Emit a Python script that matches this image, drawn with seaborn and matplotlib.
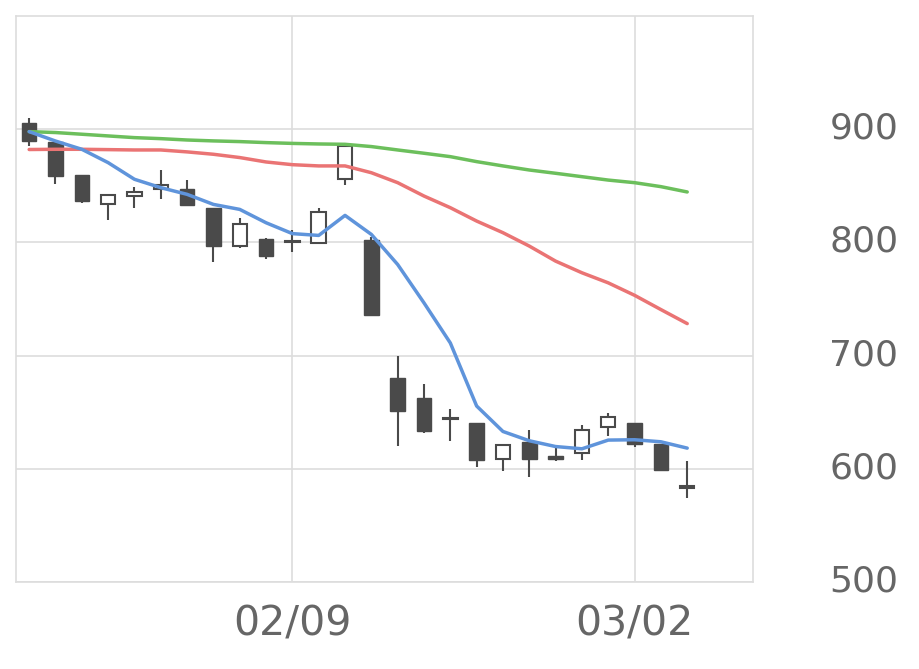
import pandas as pd
import numpy as np
import matplotlib
matplotlib.use("Agg")
import matplotlib.pyplot as plt
import matplotlib.transforms as mtransforms
import seaborn as sns

# daily prices
dates = ["01/26", "01/27", "01/28", "01/29", "02/01", "02/02", "02/03", "02/04", "02/05",
         "02/08", "02/09", "02/10", "02/12", "02/15", "02/16", "02/17", "02/18", "02/19",
         "02/22", "02/24", "02/25", "02/26", "03/01", "03/02", "03/03", "03/04"]
open_ = [905.3, 889.1, 859.6, 833.6, 841.0, 846.9, 847.5, 830.1, 796.7, 803.3, 800.3, 799.7, 855.8,
         801.8, 680.5, 662.8, 644.0, 640.4, 608.6, 623.9, 610.9, 614.4, 636.6, 640.4, 621.5, 583.2]
high = [909.7, 889.5, 859.8, 841.6, 849.3, 864.0, 855.1, 830.4, 821.2, 803.5, 810.6, 830.1, 886.0,
        804.7, 699.7, 674.6, 652.8, 640.6, 621.2, 634.5, 619.7, 639.0, 649.3, 640.6, 621.7, 606.5]
low = [885.0, 851.3, 835.0, 819.7, 830.4, 838.0, 833.2, 782.9, 795.0, 785.8, 791.8, 799.5, 851.0,
       735.5, 620.4, 631.6, 624.8, 602.0, 598.2, 593.0, 606.5, 608.0, 628.6, 619.7, 598.9, 574.1]
close = [889.6, 858.4, 836.3, 841.6, 844.5, 850.4, 833.4, 796.5, 816.2, 787.6, 800.3, 826.8, 885.3,
         735.7, 651.3, 633.6, 644.0, 608.0, 621.0, 608.3, 608.6, 634.3, 646.0, 621.9, 599.1, 583.2]

# moving averages
ma5 = [897.9, 889.6, 882.3, 870.5, 855.8, 848.4, 842.5, 833.6, 829.2, 817.4, 807.8, 806.2, 823.9,
       807.1, 780.5, 746.6, 711.2, 655.5, 633.0, 624.8, 619.7, 617.7, 625.4, 625.7, 623.9, 618.3]
ma25 = [882.1, 882.3, 882.3, 882.0, 881.7, 881.7, 880.0, 877.9, 875.0, 871.1, 868.7, 867.6, 867.6,
        861.6, 852.8, 841.0, 830.7, 818.9, 808.6, 796.8, 783.5, 773.2, 764.3, 753.3, 740.7, 728.3]
ma75 = [897.9, 897.1, 895.6, 894.1, 892.6, 891.7, 890.5, 889.7, 889.1, 888.2, 887.5, 887.0, 886.7,
        884.7, 881.7, 878.8, 875.8, 871.4, 867.6, 864.0, 861.1, 858.1, 855.1, 852.8, 849.3, 844.6]

tick_dates = ["02/09", "03/02"]

df = pd.DataFrame({"date": dates, "open": open_, "high": high, "low": low, "close": close,
                   "ma5": ma5, "ma25": ma25, "ma75": ma75})
df["pos"] = np.arange(len(df))

sns.set_style("white")
plt.rcParams['font.family'] = ['DejaVu Sans']

fig = plt.figure(figsize=(9.2, 6.69), dpi=100)
ax = fig.add_axes([0.0174, 0.130, 0.8011, 0.846])

# candles
candle_color = "#4a4a4a"
ax.vlines(df["pos"], df["low"], df["high"], color=candle_color, linewidth=1.5, zorder=2)
up = df["close"] >= df["open"]
body_bottom = np.minimum(df["open"], df["close"])
body_height = (df["close"] - df["open"]).abs().clip(lower=1.2)
ax.bar(df["pos"][up], body_height[up], bottom=body_bottom[up], width=0.55,
       color="white", edgecolor=candle_color, linewidth=1.5, zorder=3)
ax.bar(df["pos"][~up], body_height[~up], bottom=body_bottom[~up], width=0.55,
       color=candle_color, edgecolor=candle_color, linewidth=1.0, zorder=3)

# moving average lines
sns.lineplot(data=df, x="pos", y="ma75", color="#6cbf5c", linewidth=2.5, ax=ax, zorder=4)
sns.lineplot(data=df, x="pos", y="ma25", color="#ea7474", linewidth=2.5, ax=ax, zorder=4)
sns.lineplot(data=df, x="pos", y="ma5", color="#5f94db", linewidth=2.5, ax=ax, zorder=4)

ax.set_xlim(-0.5, 27.5)
ax.set_ylim(500, 1000)
ax.set_xlabel("")
ax.set_ylabel("")

ax.set_xticks([dates.index(d) for d in tick_dates])
ax.set_xticklabels(tick_dates)
ax.set_yticks([500, 600, 700, 800, 900])
ax.yaxis.tick_right()

ax.grid(True, color="#dddddd", linewidth=1.2, zorder=0)
ax.set_axisbelow(True)
for s in ax.spines.values():
    s.set_color("#dddddd")
    s.set_linewidth(1.2)

ax.tick_params(axis="x", length=11.5, width=1, color="#ccd6eb", pad=5, labelsize=29.5, labelcolor="#666666")
ax.tick_params(axis="y", length=0, pad=55, labelsize=26, labelcolor="#666666")

# y labels sit a little above their gridlines
shift = mtransforms.ScaledTranslation(0, 4 / 100, fig.dpi_scale_trans)
for lbl in ax.get_yticklabels():
    lbl.set_transform(lbl.get_transform() + shift)

fig.savefig("out.png", dpi=100)
